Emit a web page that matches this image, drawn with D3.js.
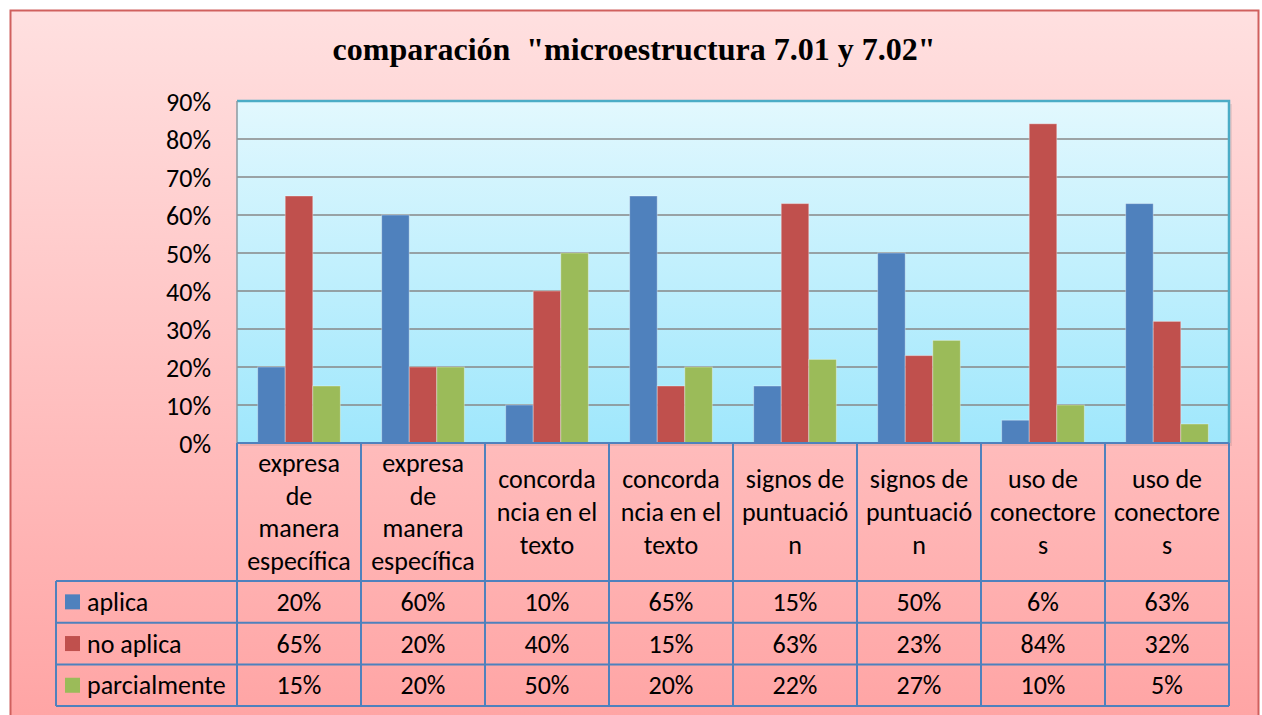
<!DOCTYPE html>
<html lang="es">
<head>
<meta charset="UTF-8">
<title>comparación microestructura</title>
<style>
  body { margin: 0; background: #ffffff; }
  svg text { font-family: Carlito, Lato, "Liberation Sans", sans-serif; fill: #000; }
</style>
</head>
<body>
<div id="chart"></div>
<script src="https://d3js.org/d3.v7.min.js"></script>
<script>
// categories (the original wraps each label into these lines)
const categories = [
  ["expresa", "de", "manera", "específica"],
  ["expresa", "de", "manera", "específica"],
  ["concorda", "ncia en el", "texto"],
  ["concorda", "ncia en el", "texto"],
  ["signos de", "puntuació", "n"],
  ["signos de", "puntuació", "n"],
  ["uso de", "conectore", "s"],
  ["uso de", "conectore", "s"]
];
const seriesNames = ["aplica", "no aplica", "parcialmente"];
const seriesColors = ["#4f81bd", "#c0504d", "#9bbb59"];
const aplica = [20, 60, 10, 65, 15, 50, 6, 63];
const noAplica = [65, 20, 40, 15, 63, 23, 84, 32];
const parcialmente = [15, 20, 50, 20, 22, 27, 10, 5];
const yTicks = [0, 10, 20, 30, 40, 50, 60, 70, 80, 90];

const seriesValues = [aplica, noAplica, parcialmente];

const W = 1262, H = 715;
const FS = "26px";
const svg = d3.select("#chart").append("svg")
    .attr("width", W)
    .attr("height", H);

const defs = svg.append("defs");
const bgGrad = defs.append("linearGradient").attr("id", "bgGrad")
    .attr("x1", 0).attr("y1", 0).attr("x2", 0).attr("y2", 1);
bgGrad.append("stop").attr("offset", "0%").attr("stop-color", "#ffe0e0");
bgGrad.append("stop").attr("offset", "100%").attr("stop-color", "#ffa3a3");

const plotGrad = defs.append("linearGradient").attr("id", "plotGrad")
    .attr("x1", 0).attr("y1", 0).attr("x2", 0).attr("y2", 1);
plotGrad.append("stop").attr("offset", "0%").attr("stop-color", "#e2f8fe");
plotGrad.append("stop").attr("offset", "100%").attr("stop-color", "#9fe7fc");

// outer chart area
svg.append("rect")
    .attr("x", 10.5).attr("y", 10.5)
    .attr("width", 1248).attr("height", 725)
    .attr("fill", "url(#bgGrad)")
    .attr("stroke", "#d0605e")
    .attr("stroke-width", 2);

svg.append("text")
    .attr("x", 634).attr("y", 60)
    .attr("text-anchor", "middle")
    .style("font-family", "'Liberation Serif', 'Times New Roman', serif")
    .style("font-weight", "bold")
    .style("font-size", "32px")
    .style("white-space", "pre")
    .text('comparación  "microestructura 7.01 y 7.02"');

const plot = { left: 237, right: 1229, top: 101, bottom: 443 };

const y = d3.scaleLinear().domain([0, 90]).range([plot.bottom, plot.top]);
const x = d3.scaleBand()
    .domain(d3.range(categories.length))
    .range([plot.left, plot.right]);
const xs = d3.scaleBand()
    .domain(d3.range(seriesNames.length))
    .range([0, x.bandwidth()])
    .paddingOuter(0.75);

// plot background with a soft shadow
svg.append("rect")
    .attr("x", plot.left + 3).attr("y", plot.top + 3)
    .attr("width", plot.right - plot.left).attr("height", plot.bottom - plot.top)
    .attr("fill", "#000").attr("opacity", 0.08);
svg.append("rect")
    .attr("x", plot.left).attr("y", plot.top)
    .attr("width", plot.right - plot.left).attr("height", plot.bottom - plot.top)
    .attr("fill", "url(#plotGrad)");

// gridlines
svg.append("g")
    .selectAll("line")
    .data(yTicks.filter(d => d > 0 && d < 90))
    .join("line")
    .attr("x1", plot.left).attr("x2", plot.right)
    .attr("y1", d => y(d)).attr("y2", d => y(d))
    .attr("stroke", "#878787")
    .attr("stroke-width", 1.6);

// bars
const barData = [];
seriesValues.forEach((vals, s) => vals.forEach((v, i) => barData.push({ s, i, v })));
svg.append("g")
    .selectAll("rect")
    .data(barData)
    .join("rect")
    .attr("x", d => x(d.i) + xs(d.s))
    .attr("y", d => y(d.v))
    .attr("width", xs.bandwidth())
    .attr("height", d => y(0) - y(d.v))
    .attr("fill", d => seriesColors[d.s])
    .attr("stroke", "rgba(255,255,255,0.35)")
    .attr("stroke-width", 1);

// plot border
svg.append("path")
    .attr("d", `M${plot.left},${plot.top}H${plot.right}V${plot.bottom}`)
    .attr("fill", "none")
    .attr("stroke", "#4bacc6")
    .attr("stroke-width", 2.5);
svg.append("line")
    .attr("x1", plot.left).attr("x2", plot.left)
    .attr("y1", plot.top).attr("y2", plot.bottom)
    .attr("stroke", "#8a9aa0").attr("stroke-width", 1.5);

// y axis
const yAxis = d3.axisLeft(y)
    .tickValues(yTicks)
    .tickSize(0)
    .tickPadding(26)
    .tickFormat(d => d + "%");
const gy = svg.append("g")
    .attr("transform", `translate(${plot.left},0)`)
    .call(yAxis);
gy.select(".domain").remove();
gy.selectAll("text")
    .style("font-family", "Carlito, Lato, 'Liberation Sans', sans-serif")
    .style("font-size", FS)
    .attr("dy", "0.36em");

// data table
const table = { left: 56, headerBottom: 581, rowH: 41.7 };
const tableBottom = table.headerBottom + table.rowH * 3;
const tg = svg.append("g");
const lineColor = "#4f81bd";

// category header
categories.forEach((lines, i) => {
  const cx = x(i) + x.bandwidth() / 2;
  const cy = (plot.bottom + table.headerBottom) / 2;
  const lh = 32.7;
  const t = tg.append("text")
      .attr("text-anchor", "middle")
      .style("font-size", FS);
  lines.forEach((ln, k) => {
    t.append("tspan")
        .attr("x", cx)
        .attr("y", cy + (k - (lines.length - 1) / 2) * lh)
        .attr("dy", "0.35em")
        .text(ln);
  });
});

// rows
seriesNames.forEach((name, s) => {
  const ry = table.headerBottom + s * table.rowH;
  tg.append("rect")
      .attr("x", 65).attr("y", ry + table.rowH / 2 - 7.5)
      .attr("width", 15).attr("height", 15)
      .attr("fill", seriesColors[s]);
  tg.append("text")
      .attr("x", 87).attr("y", ry + table.rowH / 2)
      .attr("dy", "0.35em")
      .style("font-size", FS)
      .text(name);
  seriesValues[s].forEach((v, i) => {
    tg.append("text")
        .attr("x", x(i) + x.bandwidth() / 2)
        .attr("y", ry + table.rowH / 2)
        .attr("dy", "0.35em")
        .attr("text-anchor", "middle")
        .style("font-size", FS)
        .text(v + "%");
  });
});

// table grid lines
const hLines = [
  { y: table.headerBottom, x1: table.left, x2: plot.right },
  { y: table.headerBottom + table.rowH, x1: table.left, x2: plot.right },
  { y: table.headerBottom + table.rowH * 2, x1: table.left, x2: plot.right },
  { y: tableBottom, x1: table.left, x2: plot.right }
];
tg.selectAll("line.h")
    .data(hLines)
    .join("line")
    .attr("class", "h")
    .attr("x1", d => d.x1).attr("x2", d => d.x2)
    .attr("y1", d => d.y).attr("y2", d => d.y)
    .attr("stroke", lineColor).attr("stroke-width", 2);

const vLines = d3.range(categories.length + 1).map(i => plot.left + i * x.step());
tg.selectAll("line.v")
    .data(vLines)
    .join("line")
    .attr("class", "v")
    .attr("x1", d => d).attr("x2", d => d)
    .attr("y1", plot.bottom).attr("y2", tableBottom)
    .attr("stroke", lineColor).attr("stroke-width", 2);
tg.append("line")
    .attr("x1", table.left).attr("x2", table.left)
    .attr("y1", table.headerBottom).attr("y2", tableBottom)
    .attr("stroke", lineColor).attr("stroke-width", 2);
tg.append("line")
    .attr("x1", plot.left).attr("x2", plot.right)
    .attr("y1", plot.bottom).attr("y2", plot.bottom)
    .attr("stroke", lineColor).attr("stroke-width", 2);
</script>
</body>
</html>
